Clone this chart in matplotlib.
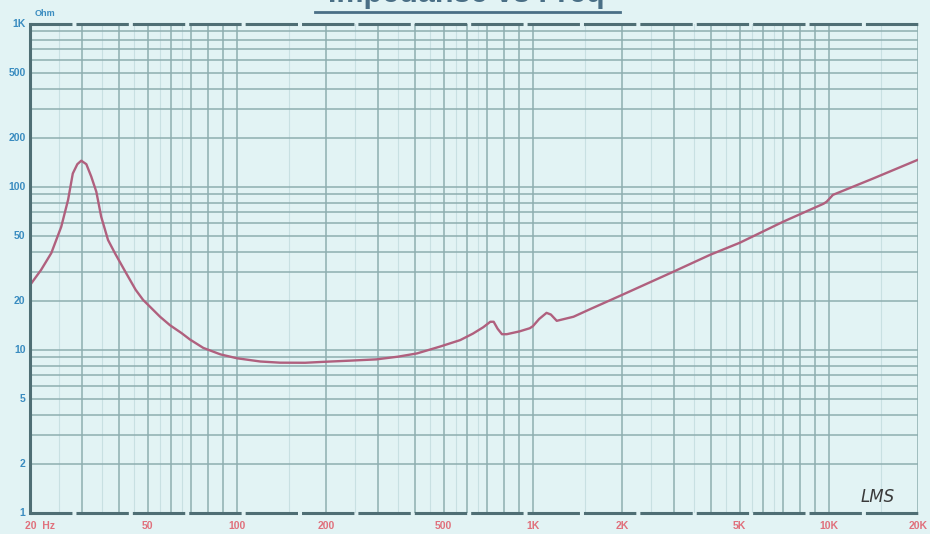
import matplotlib
matplotlib.use("Agg")
import matplotlib.pyplot as plt
from matplotlib.lines import Line2D

plt.rcParams["lines.scale_dashes"] = False

freq_hz = [20, 21.8, 23.6, 25.5, 26.9, 27.9, 28.9, 29.8, 31.0, 32.2, 33.5, 34.8,
           36.7, 38.8, 42.3, 45.5, 48.2, 55, 59.4, 65, 69.4, 77, 88, 100, 120, 140,
           170, 196, 240, 296, 350, 406, 486, 568, 627, 680, 718, 737, 760, 786,
           816, 900, 976, 1000, 1050, 1112, 1150, 1204, 1372, 1560, 1970, 2980,
           3960, 5000, 7000, 9600, 9830, 10320, 14100, 20000]
imp_ohm = [25, 31, 39.3, 57, 83.5, 121, 138, 145, 138, 116, 93.6, 65.7,
           47.3, 39, 29.5, 23.4, 20.3, 16.0, 14.2, 12.7, 11.6, 10.3, 9.4, 8.9, 8.5, 8.36,
           8.35, 8.46, 8.6, 8.76, 9.1, 9.53, 10.5, 11.5, 12.6, 13.8, 14.9, 14.9, 13.5, 12.5,
           12.5, 13.0, 13.6, 14.0, 15.5, 16.9, 16.5, 15.1, 16.0, 17.8, 21.5, 30.2,
           38.3, 45.5, 61.2, 79, 81.3, 89.5, 112.7, 147]

x_ticks = [50, 100, 200, 500, 1000, 2000, 5000, 10000, 20000]
x_labels = ["50", "100", "200", "500", "1K", "2K", "5K", "10K", "20K"]
y_ticks = [1, 2, 5, 10, 20, 50, 100, 200, 500, 1000]
y_labels = ["1", "2", "5", "10", "20", "50", "100", "200", "500", "1K"]

BG = "#e2f3f4"
GRID = "#8eaeb0"
FAINT = "#c8e0e2"
SPINE = "#4f6e74"
CURVE = "#b0607e"
BLUE = "#3a8cc0"
PINK = "#e0707c"
TITLE = "#4a6f86"

W, H = 930, 534
fig = plt.figure(figsize=(W / 100, H / 100), dpi=100, facecolor=BG)
x0, x1, y_top, y_bot = 30, 918, 24, 513
ax = fig.add_axes([x0 / W, 1 - y_bot / H, (x1 - x0) / W, (y_bot - y_top) / H])
ax.set_facecolor(BG)
ax.set_xscale("log")
ax.set_yscale("log")
ax.set_xlim(20, 20000)
ax.set_ylim(1, 1000)

# grid lines
for dec in [10, 100, 1000, 10000]:
    for m in [1.5, 2.5, 3.5, 4.5, 5.5, 6.5]:
        v = dec * m
        if 20 < v < 20000:
            ax.axvline(v, color=FAINT, lw=0.8, zorder=1)
for dec in [10, 100, 1000, 10000]:
    for m in range(1, 10):
        v = dec * m
        if 20 < v <= 20000:
            ax.axvline(v, color=GRID, lw=1.1, zorder=2)
for dec in [1, 10, 100]:
    for m in range(1, 10):
        v = dec * m
        if 1 < v < 1000:
            ax.axhline(v, color=GRID, lw=1.1, zorder=2)

ax.plot(freq_hz, imp_ohm, color=CURVE, lw=1.7, zorder=4,
        solid_capstyle="round", solid_joinstyle="round")

for s in ax.spines.values():
    s.set_visible(False)
ax.plot([0, 0], [0, 1], transform=ax.transAxes, color=SPINE, lw=2.2,
        clip_on=False, zorder=5)
# broken top / bottom borders
dash = (7.5, (37.7, 2.9))
for yy in (0, 1):
    ax.add_line(Line2D([0, 1], [yy, yy], transform=ax.transAxes, color=SPINE,
                       lw=2.2, linestyle=dash, clip_on=False, zorder=5))

ax.set_xticks([])
ax.set_yticks([])
ax.minorticks_off()

tr_y = ax.get_yaxis_transform()
for v, lab in zip(y_ticks, y_labels):
    ax.text(-0.005, v, lab, transform=tr_y, ha="right", va="center",
            fontsize=7.5, fontweight="bold", color=BLUE, family="Liberation Sans")
tr_x = ax.get_xaxis_transform()
for v, lab in zip(x_ticks, x_labels):
    ax.text(v, -0.016, lab, transform=tr_x, ha="center", va="top",
            fontsize=7.5, fontweight="bold", color=PINK, family="Liberation Sans")
ax.text(19.3, -0.016, "20  Hz", transform=tr_x, ha="left", va="top",
        fontsize=7.5, fontweight="bold", color=PINK, family="Liberation Sans")

fig.text(35 / W, 1 - 13 / H, "Ohm", ha="left", va="center", fontsize=6.5,
         fontweight="bold", color=BLUE, family="Liberation Sans")
fig.text(466 / W, 1 - 9 / H, "Impedanse vs Freq", ha="center", va="bottom",
         fontsize=22, fontweight="bold", color=TITLE, family="Liberation Sans")
fig.add_artist(Line2D([315 / W, 620 / W], [1 - 12 / H, 1 - 12 / H],
                      transform=fig.transFigure, color=TITLE, lw=2))
fig.text(878 / W, 1 - 497 / H, "LMS", ha="center", va="center", fontsize=12,
         style="italic", color="#3a3a3a", family="DejaVu Sans")

fig.savefig("out.png", dpi=100, facecolor=BG)
